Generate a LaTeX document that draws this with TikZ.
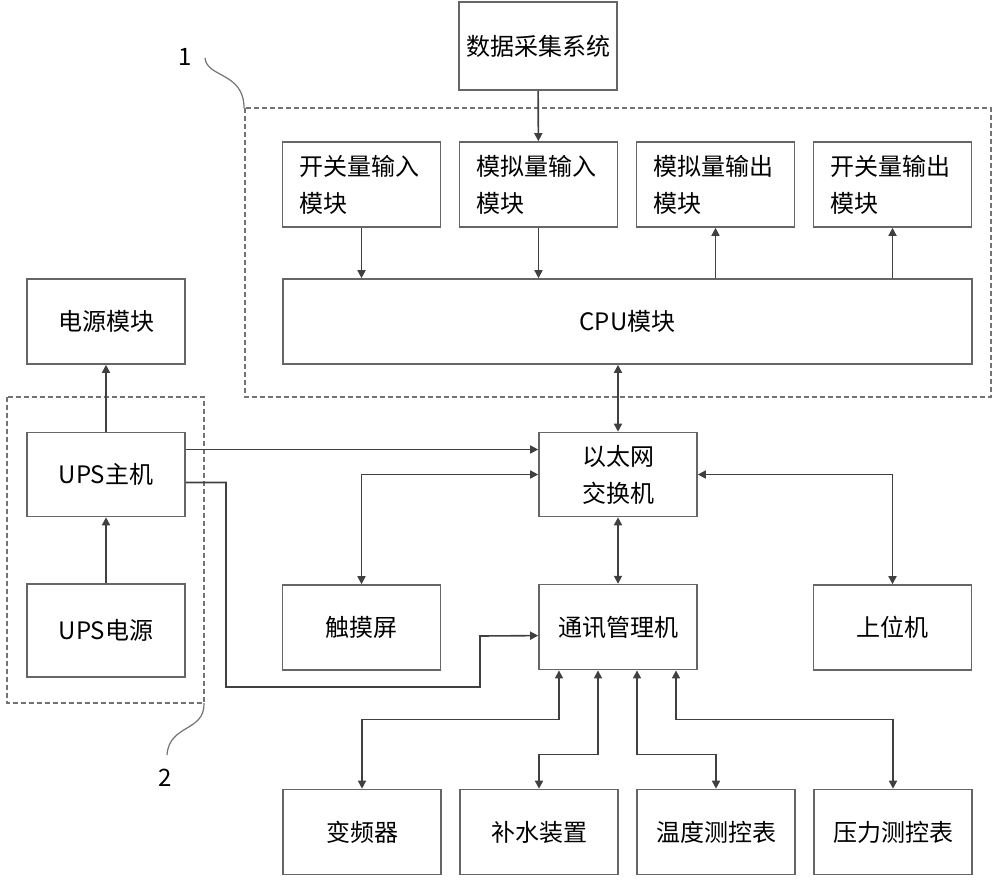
\documentclass[tikz,border=0pt]{standalone}
\usepackage{fontspec}
\setmainfont{Noto Sans CJK SC}
\usetikzlibrary{arrows.meta, positioning}

\begin{document}
\begin{tikzpicture}[
	x=1pt, y=-1pt,
 	node distance=17.4pt and 17.4pt,
	>={Triangle[length=8pt,width=8pt]},
	box/.style = {draw=black!60, line width=1.6pt, minimum width=158pt, minimum height=85pt,
	              inner sep=0pt, align=center, font=\fontsize{24}{37}\selectfont},
	modbox/.style = {box, align=left, text width=125pt},
	grp/.style = {draw=black!55, line width=1.3pt, dash pattern=on 5pt off 3pt},
	link/.style = {draw=black!75, line width=1.6pt},
	tag/.style = {font=\fontsize{24}{28}\selectfont}
     ]
		\useasboundingbox (0,0) rectangle (1000,881);
%
		\node (daq) [box, minimum height=88pt] at (538,46) {数据采集系统};
		\node (swin)  [modbox] at (361.5,184.5) {开关量输入\\模块};
		\node (anin)  [modbox, right=of swin]  {模拟量输入\\模块};
		\node (anout) [modbox, right=of anin]  {模拟量输出\\模块};
		\node (swout) [modbox, right=of anout] {开关量输出\\模块};
		\node (cpu) [box, minimum width=689pt] at (627.5,321.5) {CPU模块};
%
		\node (eth)   [box, minimum height=84pt] at (618,474.5) {以太网\\交换机};
		\node (comm)  [box, below=66.5pt of eth] {通讯管理机};
		\node (touch) [box] at (361.5,627.5) {触摸屏};
		\node (host)  [box] at (892.5,627.5) {上位机};
%
		\node (pwr)   [box] at (106,321.5) {电源模块};
		\node (ups)   [box, minimum height=84pt] at (106,474.5) {UPS主机};
		\node (upsin) [box, minimum height=93pt] at (106,630.5) {UPS电源};
%
		\node (vfd)   [box] at (362,832) {变频器};
		\node (water) [box, right=of vfd]   {补水装置};
		\node (temp)  [box, right=of water] {温度测控表};
		\node (press) [box, right=of temp]  {压力测控表};
%
		\draw[grp] (245,108) rectangle (991,397);
		\draw[grp] (7,397) rectangle (204,703);
		\node (one) [tag] at (185,57) {1};
		\node (two) [tag] at (165,778) {2};
		\draw[grp, dash pattern={}, line width=1.2pt]
		(205,58) .. controls (207,78) and (244,72) .. (244,108);
		\draw[grp, dash pattern={}, line width=1.2pt]
		(204,703) .. controls (205,732) and (169,724) .. (167,755);
%
		\draw[link,->] (daq) -- (anin);
		\draw[link,->] (swin) -- (swin.south |- cpu.north);
		\draw[link,->] (anin) -- (anin.south |- cpu.north);
		\draw[link,->] (anout.south |- cpu.north) -- (anout);
		\draw[link,->] (swout.south |- cpu.north) -- (swout);
		\draw[link,<->] (eth.north |- cpu.south) -- (eth.north);
%
		\draw[link,->] (upsin) -- (ups);
		\draw[link,->] (ups) -- (pwr);
		\draw[link,->] ([yshift=25pt]ups.east) -- ([yshift=25pt]eth.west);
		\coordinate (bendA) at (226,687);
		\coordinate (bendB) at (480,636);
		\draw[link,->] ([yshift=-8pt]ups.east) -| (bendA) -| (bendB) -- ([yshift=-8.5pt]comm.west);
%
		\draw[link,<->] (eth.west) -| (touch.north);
		\draw[link,<->] (eth.east) -| (host.north);
		\draw[link,<->] (eth) -- (comm);
%
		\draw[link,<->] ([xshift=-59pt]comm.south) -- ++(0,49) -| (vfd.north);
		\draw[link,<->] ([xshift=-20pt]comm.south) -- ++(0,84) -| (water.north);
		\draw[link,<->] ([xshift=19pt]comm.south) -- ++(0,84) -| (temp.north);
		\draw[link,<->] ([xshift=58pt]comm.south) -- ++(0,49) -| (press.north);
\end{tikzpicture}
\end{document}
